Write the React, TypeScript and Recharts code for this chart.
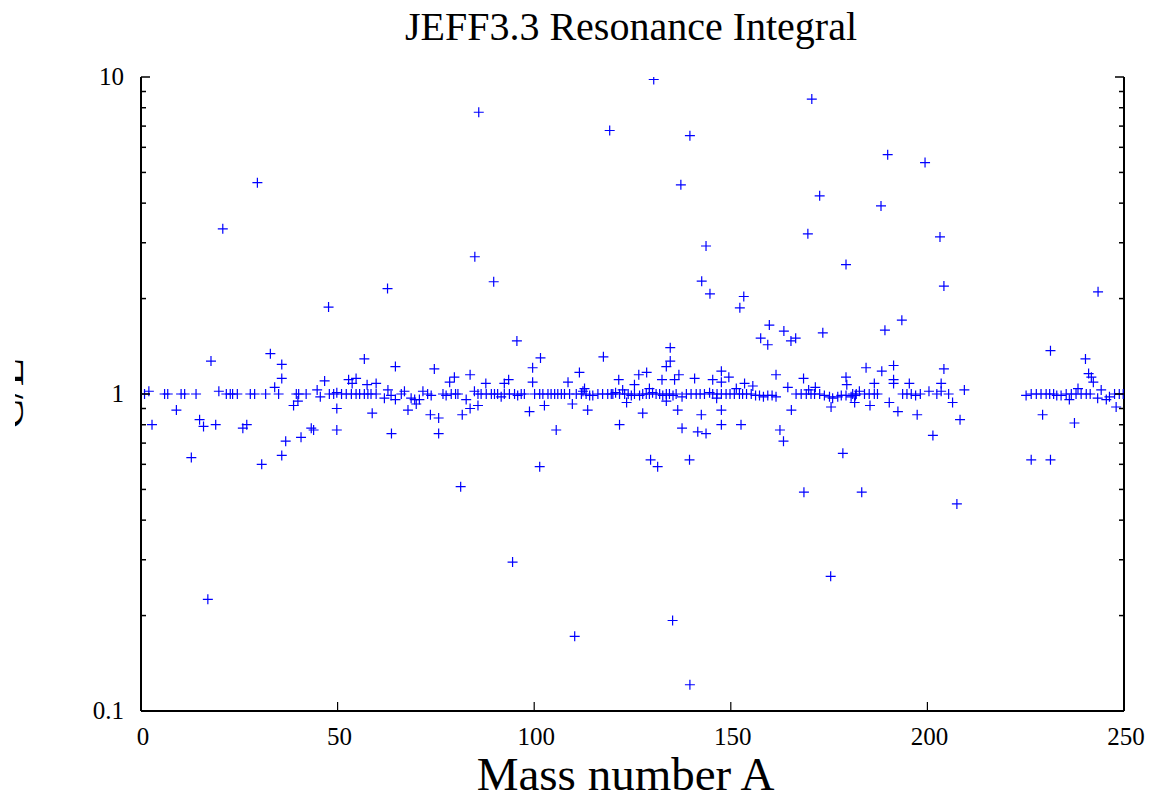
import React from "react";
import { ScatterChart, Scatter, XAxis, YAxis } from "recharts";

// C/E of the resonance integral vs mass number
const lightNuclides: [number, number][] = [
  [0.9, 1.0], [2.0, 1.02], [2.8, 0.8], [6.0, 1.0], [6.8, 1.0], [9.0, 0.89], [10.2, 1.0], [11.1, 1.0],
  [12.8, 0.63], [14.0, 1.0], [14.9, 0.83], [15.9, 0.79], [17.0, 0.225], [17.8, 1.27], [19.0, 0.8],
  [19.8, 1.02], [20.8, 3.32], [21.7, 1.0], [22.7, 1.0], [23.3, 1.0], [24.5, 1.0], [25.9, 0.78],
  [26.9, 0.8], [27.8, 1.0], [28.9, 1.0], [29.6, 4.64], [30.7, 0.6], [31.7, 1.0], [32.9, 1.34],
  [34.0, 1.05], [35.0, 1.0], [35.8, 1.24], [35.8, 1.12], [35.8, 0.64], [36.8, 0.71], [38.8, 0.92],
  [39.5, 1.0], [39.9, 0.95], [40.1, 1.0], [40.7, 0.73], [42.0, 1.0], [43.3, 0.78], [43.9, 0.77],
  [44.8, 1.03], [45.6, 0.98], [46.7, 1.1], [47.7, 1.88], [47.9, 1.0], [49.0, 1.0], [49.8, 1.01],
  [49.8, 0.9], [49.8, 0.77], [51.0, 1.0], [52.2, 1.0], [52.8, 1.11], [53.5, 1.0], [53.7, 1.08],
  [54.7, 1.12], [54.7, 1.0], [55.6, 1.0], [56.8, 1.0], [56.8, 1.29], [57.5, 1.07], [57.7, 1.0],
  [58.5, 1.0], [58.8, 0.87], [59.8, 1.0], [59.8, 1.08],
];

const mediumNuclides: [number, number][] = [
  [61.9, 0.97], [62.7, 2.15], [62.8, 1.03], [63.6, 0.99], [63.7, 0.75], [64.7, 0.96], [64.7, 1.22],
  [66.2, 1.0], [67.0, 1.02], [67.9, 0.89], [68.7, 0.97], [69.6, 0.96], [70.0, 0.93], [70.8, 0.96],
  [71.7, 1.02], [72.9, 1.0], [73.6, 0.86], [73.8, 0.99], [74.6, 1.2], [75.7, 0.84], [75.7, 0.75],
  [76.8, 1.0], [77.6, 0.99], [78.5, 1.09], [78.9, 1.0], [79.7, 1.13], [80.0, 1.0], [80.6, 1.0],
  [81.3, 0.51], [81.7, 0.86], [82.7, 0.96], [83.7, 1.15], [83.7, 0.9], [84.8, 1.02], [84.9, 2.71],
  [85.7, 1.0], [85.7, 0.92], [85.9, 7.74], [86.5, 1.0], [87.7, 1.08], [87.8, 1.0], [89.1, 1.0],
  [89.7, 2.26], [89.9, 1.0], [90.7, 1.0], [91.6, 0.98], [92.4, 1.0], [92.4, 1.08], [93.5, 1.11],
  [93.7, 1.0], [94.5, 0.295], [95.0, 1.0], [95.6, 1.47], [95.8, 0.99], [96.7, 1.0], [97.5, 1.0],
  [98.8, 0.88], [99.6, 1.21], [99.6, 1.09], [100.1, 1.0], [101.4, 1.0], [101.4, 0.59], [101.6, 1.3],
  [102.2, 1.0], [102.6, 0.92], [103.5, 1.0], [104.3, 1.0], [105.2, 1.0], [105.6, 0.77], [106.0, 1.0],
  [106.9, 1.0], [107.7, 1.0], [108.6, 1.09], [109.0, 1.0], [109.7, 0.93], [110.3, 0.172], [110.7, 1.0],
  [111.5, 1.17], [112.0, 1.0], [112.4, 1.02], [112.8, 1.04], [113.2, 1.0], [113.6, 0.89], [114.1, 0.99],
  [114.9, 0.99], [116.2, 1.0], [117.4, 1.0], [117.6, 1.31], [118.7, 1.0], [119.2, 6.78], [119.6, 1.0],
];

const heavyNuclides: [number, number][] = [
  [120.0, 1.0], [120.7, 1.01], [121.5, 1.11], [121.7, 0.8], [121.7, 1.0], [122.5, 1.03], [123.0, 1.0],
  [123.5, 0.94], [123.9, 1.0], [124.7, 0.99], [125.5, 1.0], [125.5, 1.07], [126.6, 1.15], [126.8, 0.99],
  [127.6, 1.0], [127.6, 0.87], [128.5, 1.0], [128.6, 1.17], [129.3, 1.0], [129.3, 1.04], [129.6, 0.62],
  [130.1, 1.01], [130.4, 9.82], [131.0, 1.0], [131.4, 0.59], [131.9, 1.0], [132.5, 1.11], [132.7, 0.99],
  [133.6, 1.0], [133.6, 1.22], [133.6, 0.95], [134.4, 1.0], [134.6, 1.27], [134.6, 1.4], [135.2, 0.193],
  [135.3, 0.99], [135.7, 1.11], [136.1, 1.0], [136.5, 0.89], [136.8, 1.15], [137.3, 4.57], [137.6, 0.78],
  [137.6, 0.98], [138.7, 1.0], [139.5, 0.62], [139.6, 0.121], [139.6, 6.53], [139.9, 1.0], [140.8, 1.12],
  [141.2, 1.0], [141.6, 0.76], [142.2, 1.0], [142.5, 0.86], [142.6, 2.27], [143.3, 1.0], [143.7, 2.93],
  [143.7, 0.75], [144.6, 1.01], [144.7, 2.07], [145.4, 1.0], [145.4, 1.11], [146.4, 0.97], [146.5, 1.0],
  [147.6, 1.0], [147.6, 1.18], [147.6, 1.09], [147.6, 0.89], [147.6, 0.8], [148.8, 1.0], [149.5, 1.13],
  [149.8, 1.0], [150.9, 1.0], [151.4, 1.04], [152.2, 1.0], [152.3, 1.87], [152.6, 0.8], [153.0, 1.0],
  [153.3, 2.03], [153.5, 1.08], [154.0, 1.0], [155.2, 1.0], [155.6, 1.06], [156.3, 0.99], [157.3, 0.99],
  [157.6, 1.5], [158.3, 0.98], [159.4, 0.99], [159.4, 1.43], [159.8, 1.65], [160.5, 0.99], [161.5, 0.98],
  [161.5, 1.15], [162.5, 0.77], [163.4, 0.71], [163.5, 1.58], [164.5, 1.05], [165.3, 1.47], [165.4, 0.89],
  [166.5, 1.5], [166.6, 1.0], [167.9, 1.0], [168.5, 1.12], [168.6, 0.49], [169.2, 1.0], [169.6, 3.2],
  [169.8, 1.03], [170.4, 1.0], [170.6, 8.52], [171.3, 1.0], [171.5, 1.05], [172.6, 1.0], [172.6, 4.22],
  [173.4, 1.56], [173.8, 0.99], [175.1, 0.98], [175.4, 0.266], [175.5, 0.91], [175.9, 0.97], [177.2, 0.98],
  [178.1, 0.99], [178.5, 0.65], [179.3, 0.99], [179.3, 2.56], [179.3, 1.13], [179.5, 1.07], [180.6, 0.98],
  [181.0, 1.0], [181.5, 0.94], [181.7, 0.99], [181.9, 1.0], [182.7, 1.02], [183.3, 0.49], [184.0, 1.0],
  [184.4, 1.21], [185.2, 1.0], [185.4, 0.92], [186.5, 1.0], [186.5, 1.08], [187.3, 1.0], [188.2, 3.92],
  [188.4, 1.18], [189.2, 1.59], [189.9, 5.69], [190.3, 0.94], [191.4, 1.23], [191.4, 1.11], [191.4, 1.08],
  [192.5, 0.88], [193.5, 1.71], [193.7, 1.0], [194.8, 1.0], [195.4, 1.08], [195.9, 1.0], [197.0, 0.99],
  [197.4, 0.86], [198.2, 1.0], [199.4, 5.37], [200.4, 1.02], [201.4, 0.74], [202.4, 1.0], [203.2, 3.13],
  [203.5, 1.02], [203.5, 1.08], [204.2, 1.2], [204.2, 2.19], [205.4, 1.0], [206.4, 0.94], [207.5, 0.45],
  [208.3, 0.83], [209.4, 1.03],
];

const actinides: [number, number][] = [
  [225.1, 0.99], [226.4, 1.0], [226.4, 0.62], [227.7, 1.0], [228.9, 1.0], [229.3, 0.86], [230.2, 1.0],
  [231.1, 1.0], [231.3, 1.37], [231.3, 0.62], [232.1, 1.0], [232.9, 0.99], [234.0, 0.99], [235.3, 1.0],
  [236.1, 0.96], [236.6, 1.0], [237.4, 0.81], [237.8, 1.0], [238.3, 1.04], [239.1, 1.0], [240.2, 1.29],
  [240.4, 1.0], [241.0, 1.16], [241.4, 1.0], [241.7, 1.13], [242.2, 1.09], [243.3, 0.97], [243.4, 2.1],
  [244.2, 1.03], [245.5, 0.96], [246.3, 0.98], [247.6, 1.0], [248.0, 0.91], [248.8, 1.0], [249.8, 1.0],
];

const xTicks = [0, 50, 100, 150, 200, 250];
const yTicks = [0.1, 0.2, 0.3, 0.4, 0.5, 0.6, 0.7, 0.8, 0.9, 1, 2, 3, 4, 5, 6, 7, 8, 9, 10];
const yLabelled = [0.1, 1, 10];

const FONT = "'Liberation Serif', 'Times New Roman', serif";
const BLUE = "#0000ff";

const toRows = (pts: [number, number][]) => pts.map(([a, ce]) => ({ a, ce }));

const Plus = (props: any) => {
  const { cx, cy } = props;
  if (cx == null || cy == null) return null;
  const r = 5;
  return (
    <path
      d={`M${cx - r},${cy}H${cx + r}M${cx},${cy - r}V${cy + r}`}
      stroke={BLUE}
      strokeWidth={1.2}
      fill="none"
    />
  );
};

const LeftTick = (props: any) => {
  const { x, y, payload } = props;
  const v = payload.value;
  const major = yLabelled.includes(v);
  return (
    <g>
      <line x1={x} x2={x + (major ? 9 : 5)} y1={y} y2={y} stroke="#000" strokeWidth={1.5} />
      {major && (
        <text x={x - 17} y={y + 8} textAnchor="end" fontFamily={FONT} fontSize={25} fill="#000">
          {String(v)}
        </text>
      )}
    </g>
  );
};

const RightTick = (props: any) => {
  const { x, y, payload } = props;
  const major = yLabelled.includes(payload.value);
  return <line x1={x} x2={x - (major ? 9 : 5)} y1={y} y2={y} stroke="#000" strokeWidth={1.5} />;
};

const BottomTick = (props: any) => {
  const { x, y, payload } = props;
  return (
    <g>
      <line x1={x} x2={x} y1={y} y2={y - 9} stroke="#000" strokeWidth={1.2} />
      <text x={x + 2} y={y + 34} textAnchor="middle" fontFamily={FONT} fontSize={25} fill="#000">
        {payload.value}
      </text>
    </g>
  );
};

const TopTick = (props: any) => {
  const { x, y } = props;
  return <line x1={x} x2={x} y1={y} y2={y + 9} stroke="#000" strokeWidth={1.2} />;
};

const XTitle = (props: any) => {
  const vb = props.viewBox || { x: 141, width: 983, y: 711 };
  return (
    <text x={vb.x + vb.width / 2 - 7} y={790} textAnchor="middle" fontFamily={FONT} fontSize={47} fill="#000">
      Mass number A
    </text>
  );
};

// y-axis title (clipped at the left edge like the source) plus the chart title
const AxisTitles = (props: any) => {
  const vb = props.viewBox || { y: 77, height: 634 };
  const cy = vb.y + vb.height / 2;
  return (
    <g>
      <text x={631} y={40} textAnchor="middle" fontFamily={FONT} fontSize={40} fill="#000">
        JEFF3.3 Resonance Integral
      </text>
      <defs>
        <clipPath id="ylabel-clip">
          <rect x={15} y={0} width={120} height={801} />
        </clipPath>
      </defs>
      <g clipPath="url(#ylabel-clip)">
        <text
          x={23}
          y={cy}
          transform={`rotate(-90, 23, ${cy})`}
          textAnchor="middle"
          fontFamily={FONT}
          fontSize={46}
          fill="#000"
        >
          C/E
        </text>
      </g>
    </g>
  );
};

export default function App() {
  const groups = [lightNuclides, mediumNuclides, heavyNuclides, actinides];
  return (
    <div style={{ position: "absolute", left: 0, top: 0, width: 1153, height: 801, background: "#fff" }}>
      <ScatterChart width={1153} height={801} margin={{ top: 77, right: 0, bottom: 0, left: 0 }}>
        <XAxis
          xAxisId="bottom"
          type="number"
          dataKey="a"
          domain={[0, 250]}
          ticks={xTicks}
          allowDataOverflow
          height={90}
          axisLine={{ stroke: "#000", strokeWidth: 2 }}
          tickLine={false}
          tickSize={0}
          tickMargin={0}
          tick={<BottomTick />}
          label={<XTitle />}
        />
        <XAxis
          xAxisId="top"
          orientation="top"
          type="number"
          dataKey="a"
          domain={[0, 250]}
          ticks={xTicks}
          allowDataOverflow
          height={0}
          axisLine={{ stroke: "#000", strokeWidth: 2 }}
          tickLine={false}
          tickSize={0}
          tickMargin={0}
          tick={<TopTick />}
        />
        <YAxis
          yAxisId="left"
          type="number"
          dataKey="ce"
          scale="log"
          domain={[0.1, 10]}
          ticks={yTicks}
          allowDataOverflow
          width={141}
          axisLine={{ stroke: "#000", strokeWidth: 2 }}
          tickLine={false}
          tickSize={0}
          tickMargin={0}
          tick={<LeftTick />}
          interval={0}
          label={<AxisTitles />}
        />
        <YAxis
          yAxisId="right"
          orientation="right"
          type="number"
          dataKey="ce"
          scale="log"
          domain={[0.1, 10]}
          ticks={yTicks}
          allowDataOverflow
          width={29}
          axisLine={{ stroke: "#000", strokeWidth: 2 }}
          tickLine={false}
          tickSize={0}
          tickMargin={0}
          tick={<RightTick />}
          interval={0}
        />
        {groups.map((g, i) => (
          <Scatter
            key={i}
            data={toRows(g)}
            xAxisId="bottom"
            yAxisId="left"
            fill={BLUE}
            shape={<Plus />}
            isAnimationActive={false}
          />
        ))}
      </ScatterChart>
    </div>
  );
}
